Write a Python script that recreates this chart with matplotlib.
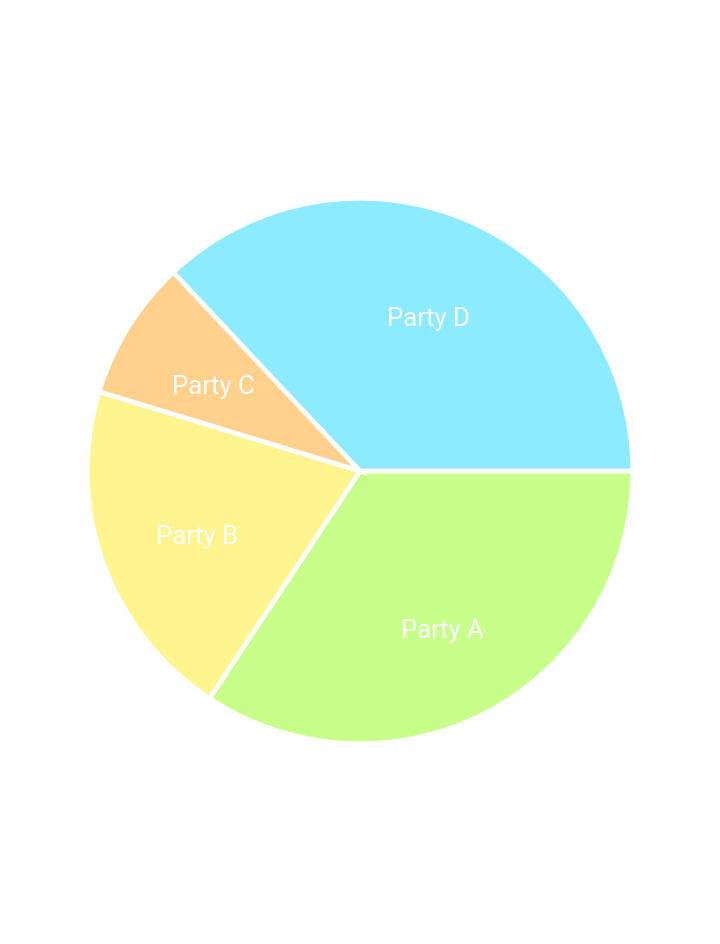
import matplotlib
matplotlib.use("Agg")
import matplotlib.pyplot as plt

labels = ["Party A", "Party B", "Party C", "Party D"]
values = [34.3, 20.4, 8.3, 37.0]
colors = ["#c8ff8a", "#fff58f", "#ffd18c", "#8debff"]

fig = plt.figure(figsize=(7.2, 9.44), dpi=100)
ax = fig.add_axes([0, 0, 1, 1])
r = 270.0
wedges, texts = ax.pie(values, labels=labels, colors=colors, startangle=0,
                       counterclock=False, labeldistance=0.635, radius=1.01,
                       wedgeprops=dict(edgecolor="white", linewidth=3.4),
                       textprops=dict(color="white", fontsize=18.5,
                                      family="Roboto"))
for t in texts:
    x, y = t.get_position()
    t.set_position((x, y - 7 / r))
    t.set_horizontalalignment("center")
    t.set_verticalalignment("center")
ax.set_xlim(-360 / r, 360 / r)
ax.set_ylim(-473 / r, 471 / r)
ax.set_aspect("auto")
ax.axis("off")
fig.savefig("out.png", dpi=100)
